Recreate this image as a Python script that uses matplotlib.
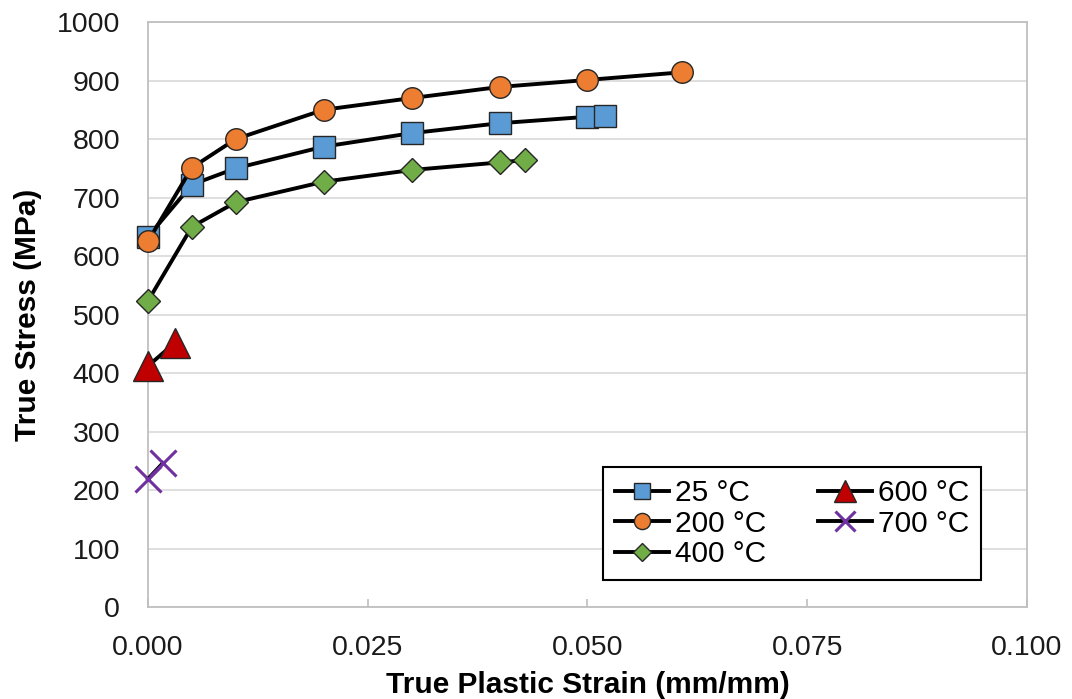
import matplotlib
matplotlib.use("Agg")
import matplotlib.pyplot as plt

plt.rcParams['font.family'] = ['Liberation Sans', 'DejaVu Sans']

# True plastic strain (mm/mm) and true stress (MPa) at each temperature
strain_25 = [0.000, 0.005, 0.010, 0.020, 0.030, 0.040, 0.050, 0.052]
stress_25 = [633, 722, 750, 787, 810, 827, 838, 839]

strain_200 = [0.000, 0.005, 0.010, 0.020, 0.030, 0.040, 0.050, 0.0607]
stress_200 = [625, 751, 800, 850, 870, 889, 901, 914]

strain_400 = [0.000, 0.005, 0.010, 0.020, 0.030, 0.040, 0.0429]
stress_400 = [523, 650, 692, 727, 747, 760, 764]

strain_600 = [0.000, 0.0031]
stress_600 = [412, 452]

strain_700 = [0.000, 0.0017]
stress_700 = [219, 246]

labels = ['25 °C', '200 °C', '400 °C', '600 °C', '700 °C']
x_ticks = [0.000, 0.025, 0.050, 0.075, 0.100]
y_ticks = list(range(0, 1001, 100))

fig = plt.figure(figsize=(10.72, 6.99), dpi=100)
ax = fig.add_axes([0.138, 0.1316, 0.820, 0.8369])

edge = '#262626'
line_kw = dict(color='black', lw=2.8, zorder=3, clip_on=False)

ax.plot(strain_25, stress_25, marker='s', ms=15.5, mfc='#5B9BD5', mec=edge, mew=1.0,
        label=labels[0], **line_kw)
ax.plot(strain_200, stress_200, marker='o', ms=15.5, mfc='#ED7D31', mec=edge, mew=1.0,
        label=labels[1], **line_kw)
ax.plot(strain_400, stress_400, marker='D', ms=12, mfc='#70AD47', mec=edge, mew=1.0,
        label=labels[2], **line_kw)
ax.plot(strain_600, stress_600, marker='^', ms=22, mfc='#C00000', mec=edge, mew=1.0,
        label=labels[3], **line_kw)
ax.plot(strain_700, stress_700, marker='x', ms=19, mfc='#7030A0', mec='#7030A0', mew=2.2,
        label=labels[4], **line_kw)

ax.set_xlim(0, 0.1)
ax.set_ylim(0, 1000)
ax.set_xticks(x_ticks)
ax.set_xticklabels([f'{v:.3f}' for v in x_ticks])
ax.set_yticks(y_ticks)

ax.grid(axis='y', color='#D9D9D9', lw=1.2, zorder=0)
ax.set_axisbelow(True)
for s in ax.spines.values():
    s.set_color('#BFBFBF')
    s.set_linewidth(1.3)

ax.tick_params(axis='x', direction='in', length=6, width=1.2, color='#BFBFBF',
               pad=20, labelsize=20.5, labelcolor='#1a1a1a')
ax.tick_params(axis='y', length=0, pad=20, labelsize=20.5, labelcolor='#1a1a1a')

ax.set_xlabel('True Plastic Strain (mm/mm)', fontsize=21.5, fontweight='bold', labelpad=7)
ax.set_ylabel('True Stress (MPa)', fontsize=21.5, fontweight='bold', labelpad=11)

leg = ax.legend(ncol=2, loc='lower left', bbox_to_anchor=(0.5176, 0.046),
                borderaxespad=0, fontsize=21.5, frameon=True, fancybox=False,
                framealpha=1, edgecolor='black', handlelength=1.8,
                handletextpad=0.2, columnspacing=1.75, labelspacing=0.08,
                borderpad=0.4, markerscale=0.75)
leg.get_frame().set_linewidth(1.5)

fig.savefig('out.png', dpi=100)
